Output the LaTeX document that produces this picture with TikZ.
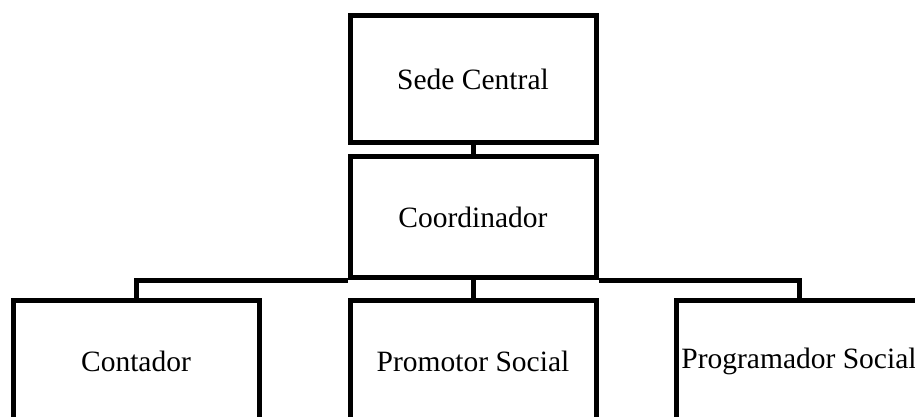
\documentclass[tikz,border=0pt]{standalone}
\usepackage{fontspec}
\setmainfont{Liberation Serif}
\begin{document}
\begin{tikzpicture}[x=1pt, y=1pt, every node/.style={draw, line width=5pt, minimum width=246pt, minimum height=121pt, inner sep=0pt, font=\fontsize{29.5}{34}\selectfont}]
            \useasboundingbox (0,0) rectangle (915,417);
            \def \m {473}
            \def \r {55.5}
            \node (sede) at (\m, 337.5) [minimum height=127pt] {Sede Central};
            \node (coordinador) at (\m, 199.5) {Coordinador};
            \node (contador) at (136, \r) {Contador};
            \node (promotor) at (\m, \r) {Promotor Social};
            \node (programador) at (799, \r) {Programador Social};
            \draw[line width=5pt] (sede) -- (coordinador);
            \draw[line width=5pt] (coordinador) -- (promotor);
            \draw[line width=5pt] (contador.north) |- (coordinador.south west);
            \draw[line width=5pt] (programador.north) |- (coordinador.south east);
        \end{tikzpicture}
\end{document}
